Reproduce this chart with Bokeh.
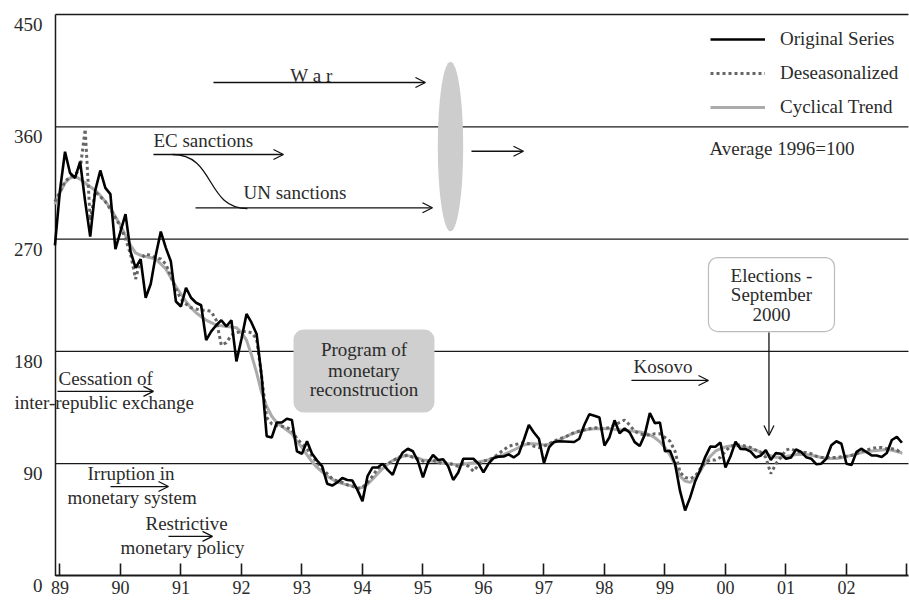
from bokeh.plotting import figure
from bokeh.models import (Range1d, FixedTicker, Label, Arrow, OpenHead,
                          BoxAnnotation, Legend, LegendItem)
from bokeh.embed import file_html
from bokeh.resources import INLINE

# ---------------- data (monthly, Dec 1988 .. Dec 2002) ----------------
start_year, start_month = 1988, 12
original = [
    265, 309, 340, 323, 319, 332, 300, 272, 309, 325, 311, 306,
    262, 276, 290, 260, 247, 254, 223, 234, 257, 276, 263, 252,
    220, 216, 231, 223, 219, 217, 189, 196, 201, 205, 200, 205,
    172, 190, 210, 203, 194, 160, 112, 111, 123, 123, 126, 125,
    100, 98, 108, 98, 92.5, 88, 74, 72.5, 75, 78.5, 77, 76.5,
    69, 60, 80, 87, 87, 90, 85, 81, 92, 99, 102, 100,
    92, 79, 91, 97, 93, 93.5, 88, 77, 83, 94, 94, 94,
    90, 83, 90, 94.5, 95.7, 95.8, 97.5, 95, 98, 109, 121, 115,
    110, 90.5, 103, 107.4, 108, 107.8, 107.6, 107.4, 110, 121, 129.6, 128.5,
    127, 104.6, 111.2, 124.8, 114.4, 118.3, 115, 107.3, 104.2, 113.3, 130.5, 122.5,
    123, 100, 100.4, 90, 68, 52.5, 63, 76, 85, 95.5, 103.7, 103.6,
    107, 87, 96, 107.6, 101.8, 101.7, 99.6, 95, 96.5, 100.8, 93, 98.5,
    98, 94, 95, 101.4, 99.5, 95.2, 94, 89.6, 90, 94, 104.8, 108,
    106, 90, 89, 99.5, 102, 99.2, 96.6, 96.6, 95.4, 98.5, 109, 111.5,
    106.8,
]
deseasonalized = [
    300, 308, 316, 320, 322, 326, 358, 285, 308, 304, 300, 294,
    287, 280, 270, 258, 238, 254, 258, 257, 255, 254, 250, 240,
    230, 222, 218, 215, 214, 213, 213, 212, 205, 185, 187, 193,
    195, 196, 196, 195, 190, 160, 127, 122, 120.6, 120, 119, 117,
    110, 106, 102, 96, 91, 86, 82, 78, 76, 75, 73, 72,
    70, 71, 75, 80, 86, 88, 90, 92, 95, 96, 97, 95,
    94, 92, 92, 93, 91, 90, 91, 89, 88, 90, 88, 84,
    89, 92, 93, 95, 98, 101, 104, 105, 106, 107, 106, 104,
    103, 104, 106, 108, 110, 111, 113, 115, 116, 117, 118, 119,
    118, 118, 119, 121, 123, 125, 121, 116, 114, 113, 113, 114,
    114, 111, 108, 100, 83, 79, 78, 80, 86, 91, 93, 93,
    95, 100, 104, 105, 105, 104, 103, 101, 99, 95, 82, 90,
    95, 101, 102, 100, 99, 99, 98, 96, 95, 95, 95, 95,
    95.5, 96, 96.6, 98, 100, 101, 102, 103, 103, 102, 102, 101,
    98,
]
cyclical_trend = [
    298, 307, 315, 319, 320, 318, 315, 312, 309, 305, 300, 295,
    288, 281, 273, 265, 259, 257, 256, 255, 254, 250, 246, 239,
    232, 226, 220, 215, 211, 208, 205, 203, 201, 200.5, 200, 199.5,
    199, 195, 189, 177, 163, 147, 136, 128, 123, 120, 117, 114,
    108, 103, 97, 91.5, 87, 83.5, 80, 77.5, 75.5, 74, 73, 72,
    70.5, 71, 73.5, 77.5, 82, 86, 89.5, 92.5, 94.5, 96, 96.5, 95.5,
    94.5, 93, 92.5, 92, 91.5, 90.5, 90, 89.6, 89.4, 89.6, 90.2, 90.8,
    91.4, 92.2, 93.2, 94.5, 95.8, 97.3, 99, 101, 103, 105, 106, 106,
    105.5, 105, 105.5, 107, 109, 111, 113, 114.5, 116, 117, 117.6, 118,
    118, 118, 118, 117.5, 117.2, 116.8, 116.4, 116, 115.4, 114.5, 113, 110.8,
    107.5, 103, 97, 89, 80, 76, 75, 78.5, 84, 91, 96, 100,
    102, 103.5, 104.2, 104.6, 104, 103.2, 102, 100.8, 99.4, 97.8, 96.5, 95.2,
    95.2, 95.7, 96.5, 97.3, 97.4, 97.4, 96.8, 95.9, 95, 94.3, 94.2, 94.2,
    94.8, 95.7, 96.8, 98, 99, 99.8, 100.2, 100.6, 101, 101.4, 100.8, 99.8,
    98.8,
]
months = [start_year + (start_month - 1 + i) / 12 for i in range(len(original))]

year_ticks = list(range(1989, 2004))
year_labels = ["89", "90", "91", "92", "93", "94", "95", "96", "97", "98",
               "99", "00", "01", "02", ""]
value_ticks = [0, 90, 180, 270, 360, 450]

FONT = "Liberation Serif"
TXT = "#2b2b2b"
LINE = "#1a1a1a"
X0, X1 = 1988.926, 2003.025          # extent of the chart box
Y0, Y1 = 0, 450

p = figure(width=909, height=601,
           x_range=Range1d(1988.017, 2003.042), y_range=Range1d(-20.44, 461.22),
           output_backend="svg", toolbar_location=None,
           min_border=0, min_border_left=0, min_border_right=0,
           min_border_top=0, min_border_bottom=0)
p.outline_line_color = None
p.background_fill_color = "white"
p.border_fill_color = "white"
p.xgrid.visible = False
p.ygrid.visible = False
p.yaxis.visible = False

# horizontal rules at the value ticks and the left edge of the box
p.segment(x0=[X0] * (len(value_ticks) - 1), y0=value_ticks[1:],
          x1=[X1] * (len(value_ticks) - 1), y1=value_ticks[1:],
          line_color=LINE, line_width=1.3)
p.segment(x0=[X0], y0=[Y0], x1=[X0], y1=[Y1], line_color=LINE, line_width=1.5)

# x axis drawn at value 0
xa = p.xaxis[0]
xa.fixed_location = 0
xa.bounds = (X0, X1)
xa.ticker = FixedTicker(ticks=year_ticks)
xa.major_label_overrides = {t: l for t, l in zip(year_ticks, year_labels)}
xa.major_tick_in = 12
xa.major_tick_out = 0
xa.minor_tick_line_color = None
xa.axis_line_width = 2
xa.axis_line_color = LINE
xa.major_tick_line_width = 1.6
xa.major_tick_line_color = LINE
xa.major_label_text_font = FONT
xa.major_label_text_font_size = "18px"
xa.major_label_text_color = TXT
xa.major_label_standoff = 5

for v in value_ticks:
    p.add_layout(Label(x=X0, y=v, x_offset=-13, y_offset=-10, text=str(v),
                       text_align="right", text_baseline="middle",
                       text_font=FONT, text_font_size="19px", text_color=TXT))

# ---------------- series ----------------
r_trend = p.line(months, cyclical_trend, line_color="#ababab", line_width=3)
r_des = p.line(months, deseasonalized, line_color="#666666", line_width=3, line_dash="3 3")
r_orig = p.line(months, original, line_color="black", line_width=2.6)

legend = Legend(items=[LegendItem(label="Original Series", renderers=[r_orig]),
                       LegendItem(label="Deseasonalized", renderers=[r_des]),
                       LegendItem(label="Cyclical Trend", renderers=[r_trend])],
                location=(710, 483), border_line_color=None, background_fill_alpha=0,
                glyph_width=55, glyph_height=20, label_height=20, spacing=12,
                padding=0, margin=0, label_standoff=15,
                label_text_font=FONT, label_text_font_size="19px", label_text_color=TXT)
p.add_layout(legend)

# ---------------- annotations ----------------
def arrow(x0, y0, x1, y1):
    p.add_layout(Arrow(end=OpenHead(size=10, line_width=1.3, line_color="#111111"),
                       x_start=x0, y_start=y0, x_end=x1, y_end=y1,
                       line_width=1.3, line_color="#111111"))

def label(x, y, text, align="left", size="19px"):
    p.add_layout(Label(x=x, y=y, text=text, text_align=align, text_baseline="middle",
                       text_font=FONT, text_font_size=size, text_color=TXT))

# war
label(1993.157, 401.1, "W a r", align="center")
arrow(1991.537, 395.5, 1995.041, 395.5)
p.ellipse(x=[1995.455], y=[344.2], width=0.42, height=136, fill_color="#cdcdcd", line_color=None)
arrow(1995.802, 340.4, 1996.661, 340.4)

# sanctions
label(1990.545, 349.0, "EC sanctions")
arrow(1990.545, 337.8, 1992.694, 337.8)
p.bezier(x0=[1990.860], y0=[337.8], x1=[1992.099], y1=[294.5],
         cx0=[1991.570], cy0=[337.8], cx1=[1991.405], cy1=[294.5],
         line_color="#111111", line_width=1.3)
label(1992.033, 307.3, "UN sanctions")
arrow(1991.240, 295.1, 1995.157, 295.1)

label(1999.736, 342.6, "Average 1996=100")

# elections
p.add_layout(BoxAnnotation(left=1999.719, right=2001.802, bottom=195.9, top=255.2,
                           fill_color="white", fill_alpha=1, line_color="#222222",
                           line_width=1.2, border_radius=9))
label(2000.76, 240.8, "Elections -", align="center")
label(2000.76, 225.6, "September", align="center")
label(2000.76, 209.6, "2000", align="center")
arrow(2000.719, 195.1, 2000.719, 112.6)

# program
p.add_layout(BoxAnnotation(left=1992.860, right=1995.190, bottom=131.0, top=197.5,
                           fill_color="#cfcfcf", fill_alpha=1, line_color=None,
                           border_radius=10))
label(1994.025, 181.5, "Program of", align="center")
label(1994.025, 164.7, "monetary", align="center")
label(1994.025, 149.5, "reconstruction", align="center")

# kosovo
label(1998.479, 167.9, "Kosovo")
arrow(1998.446, 156.7, 1999.719, 156.7)

# left notes
label(1988.975, 158.3, "Cessation of")
arrow(1988.959, 147.9, 1990.545, 147.9)
label(1988.248, 139.0, "inter-republic exchange")

label(1989.455, 82.1, "Irruption in")
arrow(1989.835, 71.7, 1990.793, 71.7)
label(1989.124, 62.9, "monetary system")

label(1990.413, 42.1, "Restrictive")
arrow(1990.793, 31.7, 1991.521, 31.7)
label(1990.0, 22.8, "monetary policy")

open("out.html", "w").write(file_html(p, INLINE))
